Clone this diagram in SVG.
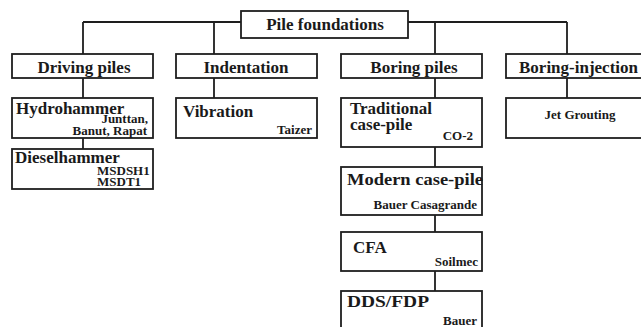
<svg xmlns="http://www.w3.org/2000/svg" width="641" height="327" viewBox="0 0 641 327">
<style>
.box{fill:#fff;stroke:#1e1e1e;stroke-width:1.8}
.ln{fill:none;stroke:#1e1e1e;stroke-width:1.8}
text{font-family:"Liberation Serif","Times New Roman",serif;font-weight:bold;fill:#1a1a1a}
.t{font-size:17px}
.s{font-size:13px}
.c{text-anchor:middle}
.r{text-anchor:end}
</style>
<rect width="641" height="327" fill="#fff"/>
<g id="connectors">
<path class="ln" d="M83,22H567M83,22V54M214,22V54M435,22V54M567,22V54"/>
<path class="ln" d="M83,78V98M214,78V98M435,78V98M567,78V98"/>
<path class="ln" d="M83,138V149M435,147V167M435,215V232M435,271V291"/>
</g>
<g id="root"><rect class="box" x="241" y="11" width="167" height="27"/><text class="t c" x="325" y="30">Pile foundations</text></g>
<g id="driving"><rect class="box" x="12" y="54" width="141" height="24"/><text class="t c" x="84" y="72.5">Driving piles</text></g>
<g id="indentation"><rect class="box" x="176" y="54" width="141" height="24"/><text class="t c" x="246" y="72.5">Indentation</text></g>
<g id="boring"><rect class="box" x="341" y="54" width="141" height="24"/><text class="t c" x="414" y="72.5">Boring piles</text></g>
<g id="injection"><rect class="box" x="506" y="54" width="145" height="24"/><text class="t" x="519" y="72.5">Boring-injection</text></g>
<g id="hydro"><rect class="box" x="12" y="98" width="141" height="40"/><text class="t" x="16" y="114">Hydrohammer</text><text class="s r" x="148" y="123">Junttan,</text><text class="s r" x="147" y="135">Banut, Rapat</text></g>
<g id="diesel"><rect class="box" x="12" y="149" width="141" height="40"/><text class="t" x="15" y="162.5">Dieselhammer</text><text class="s" x="97" y="175">MSDSH1</text><text class="s" x="97" y="185.5">MSDT1</text></g>
<g id="vibration"><rect class="box" x="176" y="98" width="141" height="40"/><text class="t" x="183" y="116.5">Vibration</text><text class="s r" x="312" y="134">Taizer</text></g>
<g id="traditional"><rect class="box" x="341" y="98" width="141" height="49"/><text class="t" x="350" y="114">Traditional</text><text class="t" x="350" y="130">case-pile</text><text class="s r" x="473" y="140">CO-2</text></g>
<g id="modern"><rect class="box" x="341" y="167" width="141" height="48"/><text class="t" x="347" y="185" textLength="136" lengthAdjust="spacingAndGlyphs">Modern case-pile</text><text class="s r" x="477" y="209">Bauer Casagrande</text></g>
<g id="cfa"><rect class="box" x="341" y="232" width="141" height="39"/><text class="t" x="353" y="253">CFA</text><text class="s r" x="478" y="266">Soilmec</text></g>
<g id="dds"><rect class="box" x="341" y="291" width="141" height="45"/><text class="t" x="347" y="307" textLength="82" lengthAdjust="spacingAndGlyphs">DDS/FDP</text><text class="s r" x="477" y="325">Bauer</text></g>
<g id="jet"><rect class="box" x="506" y="98" width="145" height="40"/><text class="s c" x="580" y="119">Jet Grouting</text></g>
</svg>
